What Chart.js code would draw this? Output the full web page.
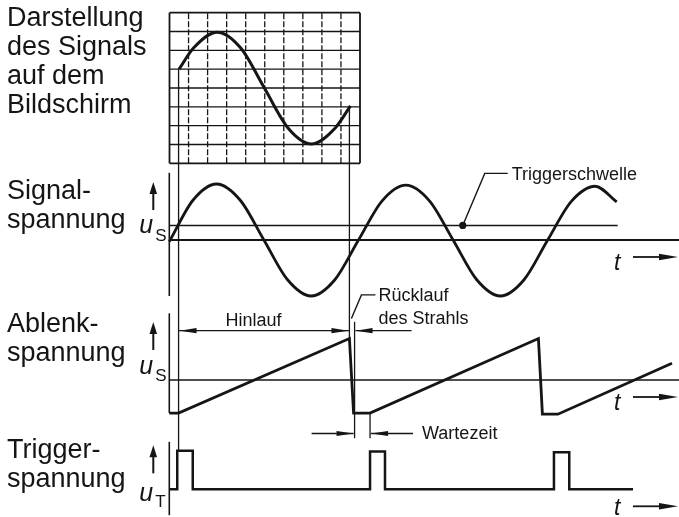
<!DOCTYPE html>
<html lang="de">
<head>
<meta charset="UTF-8">
<script src="https://cdn.jsdelivr.net/npm/chart.js@4.4.1/dist/chart.umd.min.js"></script>
<title>Triggerung</title>
<style>
    body { margin: 0; background: #fff; }
    #wrap { position: relative; width: 679px; height: 517px; }
</style>
</head>
<body>
<div id="wrap"><canvas id="osc" width="679" height="517"></canvas></div>
<script>
// time in signal periods (t = 0 where the signal axis starts)
var SIG_T = [0, 0.125, 0.25, 0.375, 0.5, 0.625, 0.75, 0.875, 1.0, 1.125, 1.25, 1.375, 1.5, 1.625, 1.75, 1.875, 2.0, 2.125, 2.25, 2.365];
var SIG_U = [-0.03, 0.71, 1.0, 0.71, 0, -0.71, -1.0, -0.71, 0, 0.70, 0.98, 0.70, 0, -0.71, -1.0, -0.71, 0, 0.69, 0.96, 0.68];
var THRESHOLD = 0.26;
var THRESHOLD_END = 2.37;
var THRESHOLD_DOT = 1.551;

// sweep: wait, ramp, fly-back, wait, ramp ...
var RAMP_T = [0, 0.049, 0.952, 0.974, 1.061, 1.951, 1.972, 2.054, 2.657];
var RAMP_U = [-0.59, -0.59, 0.74, -0.59, -0.59, 0.74, -0.61, -0.61, 0.30];

var TRIG_T = [0, 0.042, 0.042, 0.124, 0.124, 1.061, 1.061, 1.140, 1.140, 2.033, 2.033, 2.114, 2.114, 2.451];
var TRIG_U = [0, 0, 1, 1, 0, 0, 0.98, 0.98, 0, 0, 0.96, 0.96, 0, 0];

// picture on the screen, in grid divisions (10 x 8)
var SCR_X = [0.5, 1.26, 2.5, 3.74, 4.98, 6.22, 7.46, 8.7, 9.5];
var SCR_Y = [1.0, 2.12, 2.96, 2.12, 0, -2.12, -2.97, -2.12, -0.95];
var SCR_COLS = 10, SCR_ROWS = 8;

var SWEEP_START = RAMP_T[1], SWEEP_END = RAMP_T[2], RETRACE_END = RAMP_T[3], WAIT_END = RAMP_T[4];

var LEFT_LABELS = [
    ['Darstellung', 'des Signals', 'auf dem', 'Bildschirm'],
    ['Signal-', 'spannung'],
    ['Ablenk-', 'spannung'],
    ['Trigger-', 'spannung']
];
var QUANTITIES = [
    { scale: 'ySig', sym: 'u', sub: 'S' },
    { scale: 'yRamp', sym: 'u', sub: 'S' },
    { scale: 'yTrig', sym: 'u', sub: 'T' }
];

// ---- layout (pixels) ----
var W = 679, H = 517;
var INK = '#151515';
var FONT = '"Liberation Sans", Arial, sans-serif';
var LABEL_SIZE = 27;
var LABEL_BASE = [26, 199, 332, 458];
var LABEL_STEP = 29;
var QTY_POS = [
    { arrow: [-58, -30], u: -7, sub: 1 },
    { arrow: [-58, -30], u: -6, sub: 1 },
    { arrow: [-44, -16], u: 12, sub: 18 }
];

// linear scale over the whole canvas with value v0 at pixel p0
function span(p0, v0, pxPerUnit, size, up) {
    if (up) {
        var max = v0 + p0 / pxPerUnit;
        return { min: max - size / pxPerUnit, max: max };
    }
    var min = v0 - p0 / pxPerUnit;
    return { min: min, max: min + size / pxPerUnit };
}
function hidden(axis, r) {
    return { type: 'linear', axis: axis, display: false, min: r.min, max: r.max };
}

function seg(ctx, x1, y1, x2, y2, w, dash) {
    ctx.beginPath();
    ctx.lineWidth = w;
    ctx.setLineDash(dash || []);
    ctx.moveTo(x1, y1);
    ctx.lineTo(x2, y2);
    ctx.stroke();
    ctx.setLineDash([]);
}
function head(ctx, x, y, dx, dy, len, half) {
    ctx.beginPath();
    ctx.moveTo(x, y);
    ctx.lineTo(x - dx * len - dy * half, y - dy * len + dx * half);
    ctx.lineTo(x - dx * len + dy * half, y - dy * len - dx * half);
    ctx.closePath();
    ctx.fill();
}
function text(ctx, str, x, y, size, style) {
    ctx.font = (style ? style + ' ' : '') + size + 'px ' + FONT;
    ctx.textAlign = 'left';
    ctx.textBaseline = 'alphabetic';
    ctx.fillText(str, x, y);
}

function wave(xs, ys, xId, yId, w, smooth) {
    return {
        data: xs.map((x, i) => ({ x: x, y: ys[i] })),
        xAxisID: xId,
        yAxisID: yId,
        showLine: true,
        borderColor: INK,
        borderWidth: w,
        pointRadius: 0,
        pointHoverRadius: 0,
        cubicInterpolationMode: smooth ? 'monotone' : 'default',
        tension: 0,
        borderJoinStyle: 'miter',
        borderCapStyle: 'butt'
    };
}

var sketch = {
    id: 'sketch',
    beforeDatasetsDraw(chart) {
        var c = chart.ctx, s = chart.scales;
        var tx = v => s.x.getPixelForValue(v);
        var ys = v => s.ySig.getPixelForValue(v);
        var yr = v => s.yRamp.getPixelForValue(v);
        var yt = v => s.yTrig.getPixelForValue(v);
        var sx = v => s.xScr.getPixelForValue(v);
        var sy = v => s.yScr.getPixelForValue(v);
        c.save();
        c.strokeStyle = INK;
        c.fillStyle = INK;

        // screen grid
        for (var i = 0; i <= SCR_COLS; i++) {
            var edge = i == 0 || i == SCR_COLS;
            seg(c, sx(i), sy(-SCR_ROWS / 2), sx(i), sy(SCR_ROWS / 2), edge ? 1.8 : 1.3, edge ? null : [6, 2]);
        }
        for (var j = -SCR_ROWS / 2; j <= SCR_ROWS / 2; j++) {
            seg(c, sx(0), sy(j), sx(SCR_COLS), sy(j), Math.abs(j) == SCR_ROWS / 2 ? 1.8 : 1.4);
        }

        // axes
        var x0 = tx(0);
        seg(c, x0, ys(1.2), x0, ys(-1.0), 1.6);
        seg(c, x0, ys(0), W, ys(0), 1.8);
        seg(c, x0, ys(THRESHOLD), tx(THRESHOLD_END), ys(THRESHOLD), 1.5);
        seg(c, x0, yr(1.19), x0, yr(RAMP_U[0]), 1.6);
        seg(c, x0, yr(0), W, yr(0), 1.6);
        seg(c, x0, yt(1.23), x0, yt(-0.67), 1.6);

        // markers: start and end of the sweep
        seg(c, tx(SWEEP_START), sy(SCR_Y[0]), tx(SWEEP_START), yt(TRIG_U[2]), 1.3);
        seg(c, tx(SWEEP_END), sy(SCR_Y[SCR_Y.length - 1]), tx(SWEEP_END), yr(RAMP_U[2]), 1.3);
        seg(c, tx(RETRACE_END) + 1, yr(1.04), tx(RETRACE_END) + 1, yr(-1.04), 1.3);
        seg(c, tx(WAIT_END), yr(RAMP_U[4]), tx(WAIT_END), yr(-1.04), 1.3);

        // Hinlauf / Rücklauf
        var yh = yr(0.88);
        seg(c, tx(SWEEP_START), yh, tx(SWEEP_END), yh, 1.3);
        head(c, tx(SWEEP_START) + 1, yh, -1, 0, 17, 2.6);
        head(c, tx(SWEEP_END) - 1, yh, 1, 0, 17, 2.6);
        seg(c, tx(RETRACE_END) + 58, yh, tx(RETRACE_END) + 2, yh, 1.3);
        head(c, tx(RETRACE_END) + 2, yh, -1, 0, 17, 2.6);

        // Wartezeit
        var yw = yr(-0.955);
        seg(c, tx(RETRACE_END) - 42, yw, tx(RETRACE_END), yw, 1.3);
        head(c, tx(RETRACE_END), yw, 1, 0, 17, 2.6);
        seg(c, tx(WAIT_END) + 43, yw, tx(WAIT_END) + 1, yw, 1.3);
        head(c, tx(WAIT_END) + 1, yw, -1, 0, 17, 2.6);
        c.restore();
    },
    afterDatasetsDraw(chart) {
        var c = chart.ctx, s = chart.scales;
        var tx = v => s.x.getPixelForValue(v);
        var ys = v => s.ySig.getPixelForValue(v);
        var yr = v => s.yRamp.getPixelForValue(v);
        c.save();
        c.strokeStyle = INK;
        c.fillStyle = INK;

        // left titles
        LEFT_LABELS.forEach((lines, g) => {
            lines.forEach((str, k) => text(c, str, 7, LABEL_BASE[g] + k * LABEL_STEP, LABEL_SIZE));
        });

        // u arrows and symbols
        var x0 = tx(0);
        QUANTITIES.forEach((q, k) => {
            var ya = s[q.scale].getPixelForValue(0), p = QTY_POS[k];
            seg(c, x0 - 16, ya + p.arrow[0] + 8, x0 - 16, ya + p.arrow[1], 2);
            head(c, x0 - 16, ya + p.arrow[0], 0, -1, 12, 3.8);
            text(c, q.sym, x0 - 30, ya + p.u, 25, 'italic');
            text(c, q.sub, x0 - 14, ya + p.sub, 17);
        });

        // t arrows
        ['ySig', 'yRamp', 'yTrig'].forEach((id, k) => {
            var ya = s[id].getPixelForValue(0);
            var dt = k == 2 ? 26 : 30;
            text(c, 't', 614, ya + dt, 23, 'italic');
            seg(c, 633, ya + 17, 662, ya + 17, 1.8);
            head(c, 678, ya + 17, 1, 0, 19, 3.3);
        });

        // Triggerschwelle
        var dx = tx(THRESHOLD_DOT), dy = ys(THRESHOLD), ly = ys(1.19);
        c.beginPath();
        c.arc(dx, dy, 3.6, 0, Math.PI * 2);
        c.fill();
        c.beginPath();
        c.lineWidth = 1.4;
        c.moveTo(dx, dy);
        c.lineTo(dx + 22, ly);
        c.lineTo(dx + 45, ly);
        c.stroke();
        text(c, 'Triggerschwelle', dx + 49, ly + 6.5, 18);

        // Rücklauf des Strahls
        var rx = tx(SWEEP_END), ry = yr(1.52);
        c.beginPath();
        c.moveTo(rx + 2, yr(1.10));
        c.lineTo(rx + 12, ry);
        c.lineTo(rx + 26, ry);
        c.stroke();
        text(c, 'Rücklauf', rx + 29, ry + 6.5, 18);
        text(c, 'des Strahls', rx + 29, ry + 29.5, 18);

        text(c, 'Hinlauf', tx(SWEEP_START) + 47, yr(0.88) - 5, 18);
        text(c, 'Wartezeit', tx(WAIT_END) + 52, yr(-0.955) + 5.5, 18);
        c.restore();
    }
};

new Chart(document.getElementById('osc'), {
    type: 'scatter',
    data: {
        datasets: [
            wave(SCR_X, SCR_Y, 'xScr', 'yScr', 3, true),
            wave(SIG_T, SIG_U, 'x', 'ySig', 2.8, true),
            wave(RAMP_T, RAMP_U, 'x', 'yRamp', 2.8, false),
            wave(TRIG_T, TRIG_U, 'x', 'yTrig', 2.5, false)
        ]
    },
    options: {
        responsive: false,
        animation: false,
        events: [],
        layout: { padding: 0 },
        scales: {
            x: hidden('x', span(169.3, 0, 189.2, W, false)),
            y: { display: false },
            ySig: hidden('y', span(240, 0, 56, H, true)),
            yRamp: hidden('y', span(380, 0, 56, H, true)),
            yTrig: hidden('y', span(489.3, 0, 38.6, H, true)),
            xScr: hidden('x', span(169.5, 0, 19.05, W, false)),
            yScr: hidden('y', span(88, 0, 18.83, H, true))
        },
        plugins: {
            legend: { display: false },
            tooltip: { enabled: false }
        }
    },
    plugins: [sketch]
});
</script>
</body>
</html>
